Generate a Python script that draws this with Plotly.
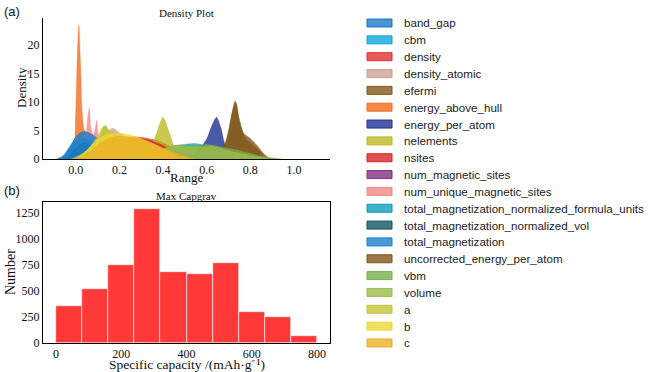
import plotly.graph_objects as go

W, H = 650, 372

# ---------------- data: density curves (normalised range -> density) ----------------
names = ["band_gap", "cbm", "density", "density_atomic", "efermi", "energy_above_hull",
         "energy_per_atom", "nelements", "nsites", "num_magnetic_sites",
         "num_unique_magnetic_sites", "total_magnetization_normalized_formula_units",
         "total_magnetization_normalized_vol", "total_magnetization",
         "uncorrected_energy_per_atom", "vbm", "volume", "a", "b", "c"]
colors = ["#1d79c9", "#10a6d8", "#e23131", "#cea192", "#81591a", "#f36c1d",
          "#1d3192", "#baba24", "#d82424", "#813181", "#f18888", "#109cba",
          "#105660", "#1d81ce", "#81561a", "#74b04c", "#9cba4c", "#c4c438",
          "#ecd838", "#ecb024"]

band_gap_x = [-0.09, -0.06, -0.03, 0.0, 0.03, 0.06, 0.1, 0.15, 0.2, 0.3, 0.4, 0.5]
band_gap_y = [0, 0.5, 2.0, 3.8, 4.8, 4.6, 3.8, 2.8, 2.0, 1.0, 0.4, 0]
cbm_x = [0.15, 0.3, 0.4, 0.5, 0.55, 0.6, 0.7, 0.8]
cbm_y = [0, 1.0, 2.0, 2.6, 2.7, 2.3, 1.0, 0]
density_x = [0.05, 0.12, 0.18, 0.22, 0.26, 0.3, 0.34, 0.38, 0.42, 0.48, 0.55]
density_y = [0, 1.0, 2.5, 3.4, 3.9, 3.8, 3.5, 3.2, 2.5, 1.0, 0]
density_atomic_x = [0.0, 0.06, 0.1, 0.14, 0.17, 0.2, 0.25, 0.3, 0.38, 0.45]
density_atomic_y = [0, 1.0, 2.8, 4.6, 5.4, 4.6, 3.2, 2.2, 1.0, 0]
efermi_x = [0.6, 0.66, 0.69, 0.71, 0.73, 0.75, 0.77, 0.8, 0.83, 0.86, 0.89]
efermi_y = [0, 1.0, 3.0, 7.0, 10.2, 7.0, 4.5, 3.6, 2.4, 1.0, 0]
energy_above_hull_x = [-0.03, -0.012, -0.002, 0.006, 0.014, 0.022, 0.03, 0.04, 0.06, 0.08, 0.1, 0.14, 0.2]
energy_above_hull_y = [0, 0.5, 6, 17, 23.5, 17, 8, 5, 3.5, 2.5, 1.6, 0.6, 0]
energy_per_atom_x = [0.5, 0.56, 0.6, 0.62, 0.645, 0.665, 0.68, 0.7, 0.74]
energy_per_atom_y = [0, 1.5, 3.5, 5.5, 7.3, 5.5, 3.0, 1.0, 0]
nelements_x = [0.05, 0.1, 0.135, 0.17, 0.22, 0.28, 0.34, 0.37, 0.4, 0.43, 0.46, 0.52]
nelements_y = [0, 3.0, 5.9, 3.5, 1.5, 1.2, 2.0, 4.5, 7.3, 4.5, 1.5, 0]
nsites_x = [0.1, 0.2, 0.28, 0.36, 0.45, 0.55]
nsites_y = [0, 2.5, 3.6, 3.0, 1.5, 0]
num_magnetic_sites_x = [0.0, 0.03, 0.06, 0.09, 0.12, 0.16]
num_magnetic_sites_y = [0, 1.5, 2.5, 2.0, 1.0, 0]
num_unique_magnetic_sites_x = [-0.01, 0.01, 0.03, 0.045, 0.055, 0.062, 0.07, 0.08, 0.09, 0.096, 0.102, 0.11, 0.13, 0.16]
num_unique_magnetic_sites_y = [0, 3, 4, 4.5, 7.5, 8.9, 5.5, 4.2, 5.5, 6.8, 4.5, 3, 1.5, 0]
tm_formula_units_x = [-0.06, -0.02, 0.02, 0.06, 0.12, 0.2, 0.3]
tm_formula_units_y = [0, 2.0, 3.6, 3.4, 2.2, 1.0, 0]
tm_vol_x = [-0.05, -0.01, 0.03, 0.07, 0.12, 0.2]
tm_vol_y = [0, 1.5, 2.8, 2.4, 1.2, 0]
total_magnetization_x = [-0.08, -0.05, -0.02, 0.01, 0.04, 0.07, 0.1, 0.15, 0.22, 0.32, 0.45]
total_magnetization_y = [0, 0.8, 2.6, 4.3, 4.8, 4.4, 3.6, 2.5, 1.5, 0.6, 0]
uncorrected_x = [0.62, 0.67, 0.7, 0.72, 0.735, 0.75, 0.78, 0.81, 0.84, 0.87]
uncorrected_y = [0, 1.5, 5, 8.5, 9.8, 6.5, 3.5, 2.5, 1.5, 0]
vbm_x = [0.35, 0.42, 0.48, 0.55, 0.6, 0.63, 0.68, 0.75, 0.82, 0.88, 0.95]
vbm_y = [0, 2.0, 2.4, 2.4, 2.6, 2.4, 2.0, 1.5, 0.8, 0.3, 0]
volume_x = [0.3, 0.38, 0.45, 0.52, 0.58, 0.62, 0.7, 0.78, 0.85, 0.9]
volume_y = [0, 1.5, 2.4, 2.2, 2.1, 2.3, 1.5, 0.8, 0.3, 0]
a_x = [-0.02, 0.05, 0.1, 0.13, 0.16, 0.2, 0.26, 0.32, 0.38, 0.45, 0.52]
a_y = [0, 1.5, 4.0, 5.8, 4.8, 4.2, 3.5, 2.8, 2.0, 0.8, 0]
b_x = [0.0, 0.05, 0.1, 0.15, 0.2, 0.25, 0.3, 0.35, 0.4, 0.45, 0.5]
b_y = [0, 1.5, 3.5, 4.4, 4.5, 4.2, 3.6, 2.8, 1.8, 0.8, 0]
c_x = [0.0, 0.06, 0.12, 0.18, 0.24, 0.3, 0.36, 0.42, 0.48, 0.55]
c_y = [0, 1.2, 3.0, 4.0, 3.9, 3.3, 2.6, 1.6, 0.7, 0]

curves_x = [band_gap_x, cbm_x, density_x, density_atomic_x, efermi_x, energy_above_hull_x,
            energy_per_atom_x, nelements_x, nsites_x, num_magnetic_sites_x,
            num_unique_magnetic_sites_x, tm_formula_units_x, tm_vol_x, total_magnetization_x,
            uncorrected_x, vbm_x, volume_x, a_x, b_x, c_x]
curves_y = [band_gap_y, cbm_y, density_y, density_atomic_y, efermi_y, energy_above_hull_y,
            energy_per_atom_y, nelements_y, nsites_y, num_magnetic_sites_y,
            num_unique_magnetic_sites_y, tm_formula_units_y, tm_vol_y, total_magnetization_y,
            uncorrected_y, vbm_y, volume_y, a_y, b_y, c_y]

# ---------------- data: histogram of max capgrav ----------------
bin_left = [0, 80, 160, 240, 320, 400, 480, 560, 640, 720]
bin_width = 80
counts = [356, 515, 747, 1288, 681, 658, 770, 299, 245, 64]
x2_ticks = [0, 200, 400, 600, 800]


def rgba(hexc, a):
    h = hexc.lstrip("#")
    return "rgba(%d,%d,%d,%s)" % (int(h[0:2], 16), int(h[2:4], 16), int(h[4:6], 16), a)


def px(x):
    return x / W


def py(y):
    return 1 - y / H


fig = go.Figure()
for nm, col, xs, ys in zip(names, colors, curves_x, curves_y):
    fig.add_trace(go.Scatter(
        x=xs, y=ys, name=nm, mode="lines", fill="tozeroy",
        line=dict(color=rgba(col, 0.5), width=0.5, shape="spline", smoothing=0.8),
        fillcolor=rgba(col, 0.8), showlegend=False, xaxis="x", yaxis="y"))

fig.add_trace(go.Bar(
    x=[l + bin_width / 2 for l in bin_left], y=counts, width=bin_width,
    marker=dict(color="rgba(255,0,0,0.78)", line=dict(color="white", width=0.6)),
    showlegend=False, xaxis="x2", yaxis="y2"))

serif = "Liberation Serif, Times New Roman, serif"
sans = "Liberation Sans, Arial, sans-serif"

xd = [px(43), px(330)]
common = dict(showline=True, linecolor="black", linewidth=1, ticks="",
              showgrid=False, zeroline=False, automargin=False,
              tickfont=dict(family=serif, size=12, color="#111"))
fig.update_layout(
    width=W, height=H, margin=dict(l=0, r=0, t=0, b=0),
    paper_bgcolor="white", plot_bgcolor="white", bargap=0,
    font=dict(family=serif, size=12, color="#111"),
    xaxis=dict(domain=xd, anchor="y", range=[-0.15, 1.165], tickvals=[0, 0.2, 0.4, 0.6, 0.8, 1.0],
               ticktext=["0.0", "0.2", "0.4", "0.6", "0.8", "1.0"], mirror=False, **common),
    yaxis=dict(domain=[py(159), py(18)], anchor="x", range=[0, 24.7],
               tickvals=[0, 5, 10, 15, 20], mirror=False, **common),
    xaxis2=dict(domain=xd, anchor="y2", range=[-40, 840], tickvals=x2_ticks, mirror=True, **common),
    yaxis2=dict(domain=[py(343), py(202)], anchor="x2", range=[0, 1352],
                tickvals=[0, 250, 500, 750, 1000, 1250], mirror=True, **common),
)

ann = []


def txt(text, x, y, size, family=serif, xanchor="center", angle=0):
    ann.append(dict(text=text, x=px(x), y=py(y), xref="paper", yref="paper",
                    showarrow=False, xanchor=xanchor, yanchor="middle", textangle=angle,
                    font=dict(family=family, size=size, color="#111")))


txt("(a)", 2, 12, 13, sans, "left")
txt("(b)", 2, 190, 13, sans, "left")
txt("Density Plot", 186.5, 13, 11)
txt("Max Capgrav", 186.5, 196, 11)
txt("Density", 21, 88, 13, angle=-90)
txt("Range", 186.5, 177, 13)
txt("Number", 10, 272, 14, angle=-90)
txt("Specific capacity /(mAh·g⁻¹)", 186.5, 364, 13.5)

# manual legend (plotly's native legend rows cannot be this tight)
shapes = []
for i, (nm, col) in enumerate(zip(names, colors)):
    yc = 23 + i * 16.84
    shapes.append(dict(type="rect", xref="paper", yref="paper",
                       x0=px(367), x1=px(392), y0=py(yc + 4), y1=py(yc - 4),
                       fillcolor=rgba(col, 0.8), line=dict(color=col, width=1)))
    ann.append(dict(text=nm, x=px(402), y=py(yc), xref="paper", yref="paper",
                    showarrow=False, xanchor="left", yanchor="middle",
                    font=dict(family=sans, size=11.6, color="#222")))

fig.update_layout(annotations=ann, shapes=shapes)
fig.write_html("out.html", config={"displayModeBar": False},
               post_script="document.body.style.margin='0';")
